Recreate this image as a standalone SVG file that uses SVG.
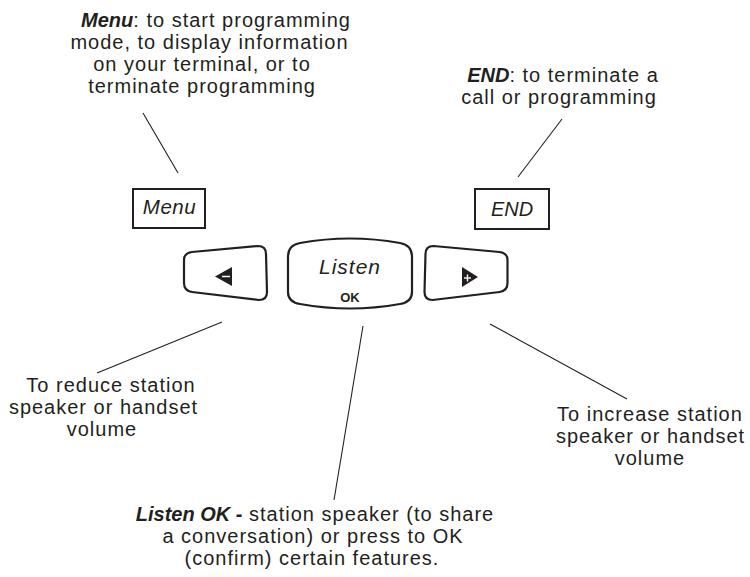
<svg xmlns="http://www.w3.org/2000/svg" width="750" height="577" viewBox="0 0 750 577">
<style>
.t{font-family:"Liberation Sans",Arial,sans-serif;font-size:20px;fill:#231f20;text-anchor:middle;letter-spacing:1px}
.b{font-weight:bold;font-style:italic;letter-spacing:0}
.k{font-family:"Liberation Sans",Arial,sans-serif;font-style:italic;font-size:20px;fill:#231f20;text-anchor:middle}
.box{fill:#fff;stroke:#231f20;stroke-width:2}
.btn{fill:#fff;stroke:#231f20;stroke-width:2.2;stroke-linejoin:round}
.ln{stroke:#231f20;stroke-width:1.1;fill:none}
</style>
<rect width="750" height="577" fill="#fff"/>
<g id="connectors">
<line class="ln" x1="143" y1="113" x2="178" y2="173"/>
<line class="ln" x1="562" y1="119" x2="518" y2="177"/>
<line class="ln" x1="222" y1="322" x2="97" y2="373"/>
<line class="ln" x1="363" y1="326" x2="334" y2="500"/>
<line class="ln" x1="490" y1="324" x2="627" y2="399"/>
</g>
<g id="menu-key">
<rect class="box" x="133" y="189" width="72" height="39"/>
<text class="k" x="169.5" y="214" style="font-size:20.5px;letter-spacing:0.5px">Menu</text>
</g>
<g id="end-key">
<rect class="box" x="475" y="189" width="74" height="40"/>
<text class="k" x="512" y="216">END</text>
</g>
<g id="left-key">
<path class="btn" d="M192,252 L258,246 Q266,246 266,254 L267,292 Q267,300 259,300 L192,292 Q184,291 184,283 L184,260 Q184,253 192,252 Z"/>
<polygon points="215,276.5 232,267 232,286" fill="#231f20"/>
<line x1="222" y1="276.5" x2="230" y2="276.5" stroke="#fff" stroke-width="1.5"/>
</g>
<g id="listen-key">
<path class="btn" d="M300,243 Q350,234 400,243 Q412,245 412,257 L412,292 Q412,302 400,304 Q350,313 300,304 Q288,302 288,292 L288,257 Q288,245 300,243 Z"/>
<text class="k" x="350" y="274" style="font-size:21px;letter-spacing:1px">Listen</text>
<text x="350" y="302" style="font-family:'Liberation Sans',Arial,sans-serif;font-weight:bold;font-size:13px;fill:#231f20;text-anchor:middle">OK</text>
</g>
<g id="right-key">
<path class="btn" d="M499.5,252 L433.5,246 Q425.5,246 425.5,254 L424.5,292 Q424.5,300 432.5,300 L499.5,292 Q507.5,291 507.5,283 L507.5,260 Q507.5,253 499.5,252 Z"/>
<polygon points="478,277 462,267 462,287" fill="#231f20"/>
<line x1="464" y1="278" x2="471" y2="278" stroke="#fff" stroke-width="1.4"/>
<line x1="467.5" y1="274.5" x2="467.5" y2="281.5" stroke="#fff" stroke-width="1.4"/>
</g>
<g id="menu-note">
<text class="t" x="216" y="27"><tspan class="b">Menu</tspan>: to start programming</text>
<text class="t" x="209.5" y="49">mode, to display information</text>
<text class="t" x="202" y="71">on your terminal, or to</text>
<text class="t" x="202" y="93">terminate programming</text>
</g>
<g id="end-note">
<text class="t" x="563" y="82"><tspan class="b">END</tspan>: to terminate a</text>
<text class="t" x="559" y="104">call or programming</text>
</g>
<g id="reduce-note">
<text class="t" x="111" y="392">To reduce station</text>
<text class="t" x="103.5" y="414">speaker or handset</text>
<text class="t" x="102" y="436">volume</text>
</g>
<g id="increase-note">
<text class="t" x="650" y="421">To increase station</text>
<text class="t" x="650.5" y="443">speaker or handset</text>
<text class="t" x="650" y="465">volume</text>
</g>
<g id="listen-note">
<text class="t" x="315" y="521"><tspan class="b">Listen OK -</tspan> station speaker (to share</text>
<text class="t" x="313" y="543">a conversation) or press to OK</text>
<text class="t" x="312" y="565">(confirm) certain features.</text>
</g>
</svg>
